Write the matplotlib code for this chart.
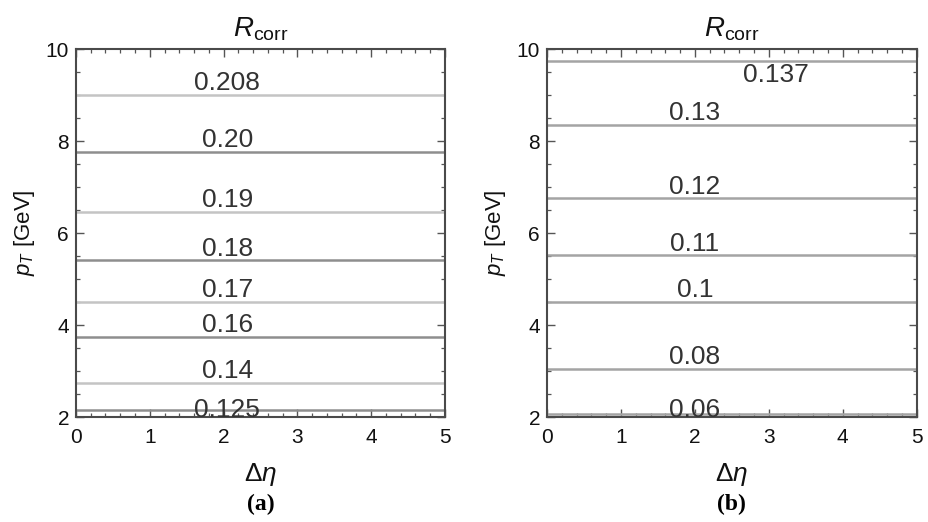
import matplotlib
matplotlib.use("Agg")
import matplotlib.pyplot as plt
from matplotlib.ticker import MultipleLocator

plt.rcParams['font.family'] = ['Liberation Sans', 'DejaVu Sans']
plt.rcParams['mathtext.fontset'] = 'custom'
plt.rcParams['mathtext.rm'] = 'Liberation Sans'
plt.rcParams['mathtext.it'] = 'Liberation Sans:italic'
plt.rcParams['mathtext.bf'] = 'Liberation Sans:bold'

# contour levels (pT in GeV) and their R_corr labels
pt_a = [9.0, 7.77, 6.46, 5.41, 4.51, 3.75, 2.74, 2.15]
labels_a = ['0.208', '0.20', '0.19', '0.18', '0.17', '0.16', '0.14', '0.125']

pt_b = [9.74, 8.36, 6.76, 5.52, 4.50, 3.05, 2.07]
labels_b = ['0.137', '0.13', '0.12', '0.11', '0.1', '0.08', '0.06']

fig = plt.figure(figsize=(9.29, 5.22), dpi=100)
ax_a = fig.add_axes([0.0818, 0.201, 0.397, 0.705])
ax_b = fig.add_axes([0.5888, 0.201, 0.398, 0.705])


def style(ax, tag):
    ax.set_xlim(0, 5)
    ax.set_ylim(2, 10)
    ax.xaxis.set_major_locator(MultipleLocator(1))
    ax.xaxis.set_minor_locator(MultipleLocator(0.2))
    ax.yaxis.set_major_locator(MultipleLocator(2))
    ax.yaxis.set_minor_locator(MultipleLocator(0.5))
    ax.tick_params(which='both', direction='in', top=True, right=True, colors='#555555',
                   labelcolor='#111111')
    ax.tick_params(which='major', length=5.5, width=1.0, labelsize=15)
    ax.tick_params(which='minor', length=3, width=0.9)
    ax.tick_params(axis='x', pad=8)
    ax.tick_params(axis='y', pad=5)
    for s in ax.spines.values():
        s.set_color('#4a4a4a')
        s.set_linewidth(1.5)
    ax.set_title(r'$R_{\rm corr}$', fontsize=20, pad=9, color='#111111')
    ax.set_ylabel(r'$p_T$ [GeV]', fontsize=16, labelpad=6, color='#111111')
    ax.set_xlabel(r'$\Delta\eta$', fontsize=19, labelpad=10, color='#111111')
    ax.text(0.5, -0.237, tag, transform=ax.transAxes, ha='center', va='center',
            fontsize=17, fontweight='bold', family='Liberation Serif')


def put_label(ax, x, y, lab, below=False):
    if below:
        ax.text(x, y - 0.05, lab, ha='center', va='top', fontsize=19, color='#333333')
    else:
        # labels at the very bottom sit on the frame like in the original
        base = 2.0 if y < 2.3 else y + 0.1
        ax.text(x, base, lab, ha='center', va='baseline', fontsize=19, color='#333333')


# panel (a)
cols_a = ['#c4c4c4', '#8e8e8e'] * 4
ax_a.hlines(pt_a, 0, 5, colors=cols_a, linewidth=1.8)
for y, lab in zip(pt_a, labels_a):
    put_label(ax_a, 2.05, y, lab)
style(ax_a, '(a)')

# panel (b)
ax_b.hlines(pt_b, 0, 5, colors='#a4a4a4', linewidth=1.8)
for y, lab in zip(pt_b, labels_b):
    if lab == '0.137':
        put_label(ax_b, 3.1, y, lab, below=True)
    else:
        put_label(ax_b, 2.0, y, lab)
style(ax_b, '(b)')

fig.savefig('out.png', dpi=100)
